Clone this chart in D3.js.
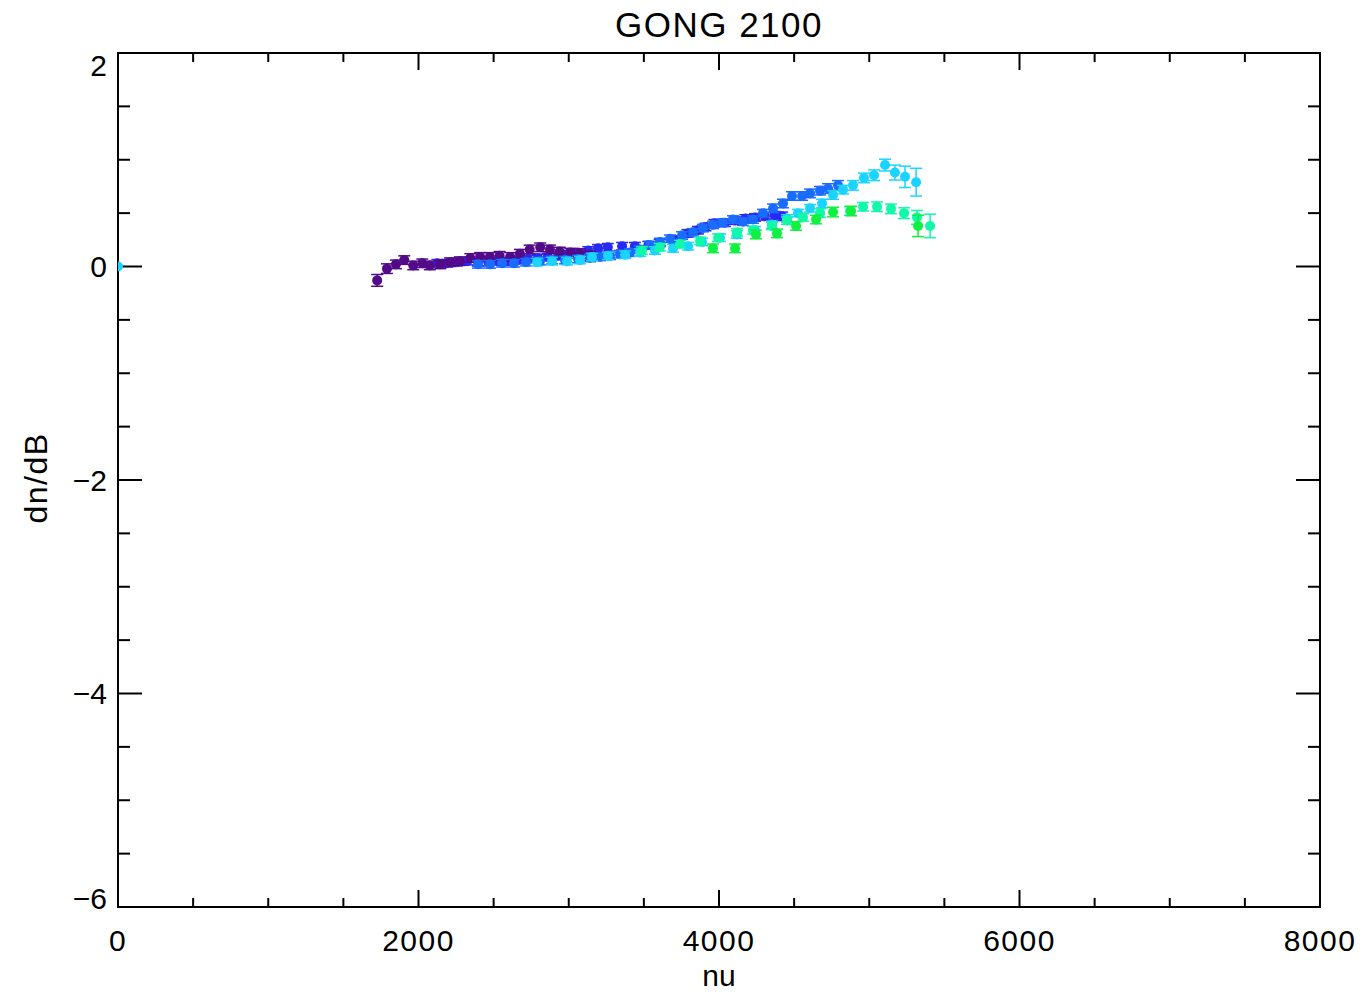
<!DOCTYPE html>
<html>
<head>
<meta charset="utf-8">
<script src="https://cdn.jsdelivr.net/npm/d3@7"></script>
<style>
  body { margin: 0; background: #fff; }
  text { font-family: "Liberation Sans", Arial, sans-serif; fill: #000; }
</style>
</head>
<body>
<script>
// frequency (nu) / shift (dn/dB) / error, one set per colour track
var nuPurple = [1725,1790,1850,1905,1965,2025,2075,2145,2210,2275,2345,2410,2475,2540,2610,2675,2740,2810,2875,2940,3010,3075,3140];
var dnPurple = [-0.13,-0.02,0.02,0.06,0.01,0.03,0.01,0.02,0.04,0.05,0.08,0.09,0.09,0.10,0.09,0.12,0.16,0.18,0.16,0.14,0.13,0.12,0.10];
var erPurple = [0.055,0.045,0.04,0.04,0.04,0.04,0.04,0.04,0.04,0.04,0.04,0.04,0.04,0.04,0.04,0.04,0.04,0.04,0.04,0.04,0.04,0.045,0.045];

var nuViolet = [2125,2190,2255,2325,2395,2465,2530,2595,2660,2730,2795,2860,2930,2995,3060,3130,3195,3260,3355,3440,3530,3605,3705,3790,3860,3910,3970,4040,4105,4175,4240,4305,4370,4420];
var dnViolet = [0.03,0.03,0.04,0.05,0.04,0.04,0.05,0.05,0.06,0.07,0.08,0.09,0.10,0.115,0.13,0.15,0.17,0.18,0.19,0.19,0.20,0.22,0.25,0.31,0.34,0.37,0.405,0.41,0.43,0.45,0.46,0.47,0.48,0.47];
var erViolet = [0.035,0.035,0.035,0.035,0.035,0.035,0.035,0.035,0.035,0.035,0.035,0.035,0.035,0.035,0.035,0.035,0.035,0.035,0.035,0.035,0.035,0.035,0.035,0.035,0.035,0.035,0.035,0.035,0.035,0.035,0.035,0.035,0.035,0.04];

var nuBlue = [2396,2476,2556,2636,2716,2809,2889,2975,3062,3142,3208,3275,3341,3408,3474,3541,3608,3674,3754,3827,3893,3960,4026,4093,4160,4226,4293,4360,4426,4486,4553,4606,4672,4726,4792];
var dnBlue = [0.02,0.02,0.03,0.03,0.04,0.05,0.06,0.06,0.07,0.08,0.09,0.10,0.115,0.13,0.16,0.20,0.23,0.26,0.29,0.32,0.36,0.39,0.41,0.44,0.42,0.44,0.50,0.545,0.59,0.66,0.66,0.685,0.71,0.73,0.76];
var erBlue = [0.035,0.035,0.035,0.035,0.035,0.035,0.035,0.035,0.035,0.035,0.035,0.035,0.035,0.035,0.035,0.035,0.035,0.035,0.035,0.035,0.035,0.035,0.035,0.035,0.035,0.035,0.035,0.04,0.04,0.04,0.04,0.04,0.04,0.045,0.045];

var nuCyan = [0,2789,2889,2989,3075,3155,3261,3375,3474,3574,3694,3794,3887,4006,4119,4239,4353,4453,4526,4606,4686,4759,4826,4892,4965,5032,5105,5171,5238,5312];
var dnCyan = [0,0.04,0.05,0.05,0.06,0.09,0.10,0.11,0.13,0.15,0.17,0.19,0.23,0.27,0.30,0.34,0.39,0.45,0.50,0.545,0.59,0.67,0.72,0.76,0.83,0.855,0.95,0.88,0.84,0.79];
var erCyan = [0,0.035,0.035,0.035,0.035,0.035,0.035,0.035,0.035,0.035,0.035,0.035,0.035,0.035,0.035,0.035,0.035,0.035,0.035,0.035,0.04,0.04,0.04,0.045,0.045,0.05,0.055,0.07,0.10,0.13];

var nuTeal = [3488,3607,3741,3874,3994,4120,4226,4353,4453,4559,4673,4872,4959,5052,5145,5232,5318,5405];
var dnTeal = [0.15,0.18,0.21,0.24,0.27,0.32,0.34,0.38,0.43,0.46,0.50,0.52,0.56,0.56,0.54,0.50,0.46,0.38];
var erTeal = [0.035,0.035,0.035,0.035,0.035,0.035,0.035,0.035,0.035,0.035,0.04,0.04,0.04,0.045,0.045,0.05,0.065,0.11];

var nuGreen = [3960,4107,4246,4386,4513,4646,4759,4879,5325];
var dnGreen = [0.17,0.17,0.30,0.31,0.38,0.44,0.51,0.52,0.38];
var erGreen = [0.04,0.04,0.04,0.04,0.04,0.04,0.045,0.045,0.10];

var xTicks = [0,2000,4000,6000,8000];
var yTicks = [2,0,-2,-4,-6];

// drawing order: later tracks sit on top
var series = [
    {color:"#2a28f4", nu:nuViolet, dn:dnViolet, er:erViolet},
    {color:"#520a88", nu:nuPurple, dn:dnPurple, er:erPurple},
    {color:"#1a6cff", nu:nuBlue,   dn:dnBlue,   er:erBlue},
    {color:"#1ad4ff", nu:nuCyan,   dn:dnCyan,   er:erCyan},
    {color:"#10f8a8", nu:nuTeal,   dn:dnTeal,   er:erTeal},
    {color:"#10f040", nu:nuGreen,  dn:dnGreen,  er:erGreen}
];

//---------setup plot-----------------------//
var margin = {top:53, right:42, bottom:86, left:118},
    width = 1362 - margin.left - margin.right,
    height = 993 - margin.top - margin.bottom;

var x = d3.scaleLinear().domain([0,8000]).range([0,width]);
var y = d3.scaleLinear().domain([-6,2]).range([height,0]);

var svg = d3.select("body").append("svg")
    .attr("width", 1362)
    .attr("height", 993);

var g = svg.append("g")
    .attr("transform", "translate(" + margin.left + "," + margin.top + ")");

g.append("clipPath").attr("id","plotclip")
  .append("rect").attr("width", width).attr("height", height);

// IDL style box: ticks point inward on all four sides
var minorX = d3.range(0, 8001, 500), minorY = d3.range(-6, 2.01, 0.5);
function tickLen(v, step, major, minor){ return (Math.abs(v % step) < 1e-6) ? major : minor; }

var ax = g.append("g").attr("stroke","#000").attr("stroke-width",2).attr("fill","none");
ax.append("rect").attr("width", width).attr("height", height);

minorX.forEach(function(v){
    var l = tickLen(v, 2000, 17, 9);
    ax.append("line").attr("x1", x(v)).attr("x2", x(v)).attr("y1", height).attr("y2", height - l);
    ax.append("line").attr("x1", x(v)).attr("x2", x(v)).attr("y1", 0).attr("y2", l);
});
minorY.forEach(function(v){
    var l = tickLen(v, 2, 24, 12);
    ax.append("line").attr("y1", y(v)).attr("y2", y(v)).attr("x1", 0).attr("x2", l);
    ax.append("line").attr("y1", y(v)).attr("y2", y(v)).attr("x1", width).attr("x2", width - l);
});

// tick labels
g.selectAll(".xlab").data(xTicks).enter().append("text")
    .attr("class","xlab")
    .attr("x", function(d){ return x(d); })
    .attr("y", height + 44)
    .attr("text-anchor","middle")
    .style("font-size","30px")
    .style("letter-spacing","1.5px")
    .text(function(d){ return d; });

g.selectAll(".ylab").data(yTicks).enter().append("text")
    .attr("class","ylab")
    .attr("x", -11)
    .attr("y", function(d){
        var c = y(d);
        c = Math.max(12, Math.min(height - 9, c)); // end labels kept inside the box
        return c + 10.5;
    })
    .attr("text-anchor","end")
    .style("font-size","30px")
    .text(function(d){ return d < 0 ? "\u2212" + Math.abs(d) : d; });

// axis titles
g.append("text")
    .attr("x", width/2).attr("y", height + 79)
    .attr("text-anchor","middle")
    .style("font-size","30px")
    .text("nu");

g.append("text")
    .attr("transform","translate(" + (47 - margin.left) + "," + (478 - margin.top) + ") rotate(-90)")
    .attr("text-anchor","middle")
    .style("font-size","32px")
    .style("letter-spacing","1.5px")
    .text("dn/dB");

svg.append("text")
    .attr("x", margin.left + width/2).attr("y", 37)
    .attr("text-anchor","middle")
    .style("font-size","35px")
    .style("letter-spacing","1.5px")
    .text("GONG 2100");

//-------------data----------//
var plot = g.append("g").attr("clip-path","url(#plotclip)");

series.forEach(function(s){
    var pts = s.nu.map(function(n, i){ return {nu:n, dn:s.dn[i], er:s.er[i]}; });
    var sg = plot.append("g").attr("stroke", s.color).attr("fill", s.color);
    var eb = sg.selectAll(".eb").data(pts.filter(function(p){ return p.er > 0; })).enter().append("g");
    eb.append("line")
        .attr("x1", function(d){ return x(d.nu); }).attr("x2", function(d){ return x(d.nu); })
        .attr("y1", function(d){ return y(d.dn - d.er); }).attr("y2", function(d){ return y(d.dn + d.er); })
        .attr("stroke-width", 1.5);
    [-1,1].forEach(function(sgn){
        eb.append("line")
            .attr("x1", function(d){ return x(d.nu) - 6; }).attr("x2", function(d){ return x(d.nu) + 6; })
            .attr("y1", function(d){ return y(d.dn + sgn*d.er); }).attr("y2", function(d){ return y(d.dn + sgn*d.er); })
            .attr("stroke-width", 1.5);
    });
    sg.selectAll("circle").data(pts).enter().append("circle")
        .attr("cx", function(d){ return x(d.nu); })
        .attr("cy", function(d){ return y(d.dn); })
        .attr("r", 5)
        .attr("stroke","none");
});
</script>
</body>
</html>
